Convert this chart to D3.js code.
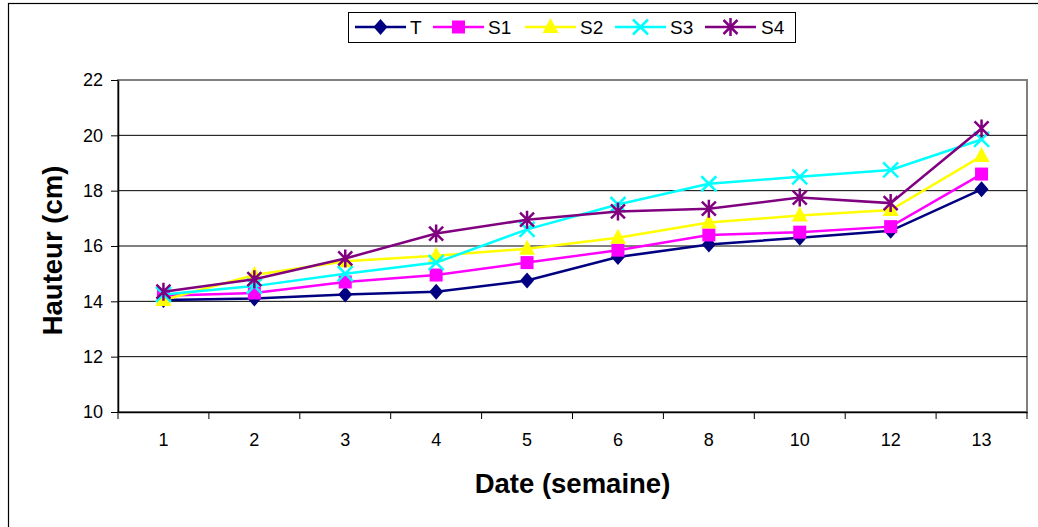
<!DOCTYPE html>
<html><head><meta charset="utf-8">
<script src="https://cdn.jsdelivr.net/npm/d3@7"></script>
<style>body{margin:0;background:#fff}svg{display:block}text{font-family:"Liberation Sans",Arial,sans-serif}</style>
</head><body><svg id="c" width="1038" height="527"></svg>
<script>
const categories = ["1","2","3","4","5","6","8","10","12","13"];
const T  = [14.05, 14.1, 14.25, 14.35, 14.75, 15.6, 16.05, 16.3, 16.55, 18.05];
const S1 = [14.2, 14.3, 14.7, 14.95, 15.4, 15.85, 16.4, 16.5, 16.7, 18.6];
const S2 = [14.05, 14.95, 15.45, 15.65, 15.9, 16.3, 16.85, 17.1, 17.3, 19.25];
const S3 = [14.25, 14.55, 15.0, 15.4, 16.6, 17.5, 18.25, 18.5, 18.75, 19.85];
const S4 = [14.35, 14.8, 15.55, 16.45, 16.95, 17.25, 17.35, 17.75, 17.55, 20.25];
const seriesNames = ["T","S1","S2","S3","S4"];
const yTicks = [10,12,14,16,18,20,22];

const series = [
  {name:"T", values:T, color:"#000080", marker:"diamond"},
  {name:"S1", values:S1, color:"#FF00FF", marker:"square"},
  {name:"S2", values:S2, color:"#FFFF00", marker:"triangle"},
  {name:"S3", values:S3, color:"#00FFFF", marker:"x"},
  {name:"S4", values:S4, color:"#800080", marker:"star"}
];

const svg = d3.select("#c");
const L = 118, R = 1027, Tp = 80, B = 412;
const x = d3.scaleBand().domain(categories).range([L, R]);
const y = d3.scaleLinear().domain([10, 22]).range([B, Tp]);

// outer frame
svg.append("rect").attr("x", 8.5).attr("y", 3.5).attr("width", 1040).attr("height", 540)
  .attr("fill", "#fff").attr("stroke", "#000").attr("stroke-width", 1.2);

// plot area border
svg.append("rect").attr("x", L).attr("y", Tp).attr("width", R - L).attr("height", B - Tp)
  .attr("fill", "#fff").attr("stroke", "#808080").attr("stroke-width", 2);

// gridlines
svg.append("g").selectAll("line").data(yTicks.filter(d => d > 10 && d < 22)).join("line")
  .attr("x1", L).attr("x2", R).attr("y1", d => y(d)).attr("y2", d => y(d))
  .attr("stroke", "#000").attr("stroke-width", 1);

// y axis
const yAxis = svg.append("g").attr("transform", `translate(${L},0)`)
  .call(d3.axisLeft(y).tickValues(yTicks).tickSize(7).tickPadding(8).tickSizeOuter(0));
yAxis.select(".domain").attr("stroke", "#000").attr("stroke-width", 1.5);
yAxis.selectAll(".tick line").attr("stroke", "#000");
yAxis.selectAll("text").attr("font-size", 18).attr("fill", "#000")
  .attr("font-family", "Liberation Sans, Arial, sans-serif");

// x axis
const xAxis = svg.append("g").attr("transform", `translate(0,${B})`)
  .call(d3.axisBottom(x).tickSize(0).tickPadding(21).tickSizeOuter(0));
xAxis.select(".domain").attr("stroke", "#000").attr("stroke-width", 1.5);
xAxis.selectAll("text").attr("font-size", 18).attr("fill", "#000")
  .attr("font-family", "Liberation Sans, Arial, sans-serif");
// tick marks at band boundaries
const bounds = categories.map(c => x(c)).concat([R]);
svg.append("g").selectAll("line").data(bounds).join("line")
  .attr("x1", d => d).attr("x2", d => d).attr("y1", B).attr("y2", B + 7)
  .attr("stroke", "#000").attr("stroke-width", 1);

// axis titles
svg.append("text").attr("x", 572.5).attr("y", 493).attr("text-anchor", "middle")
  .attr("font-size", 27.5).attr("font-weight", "bold").text("Date (semaine)");
svg.append("text").attr("transform", "translate(62,250.5) rotate(-90)").attr("text-anchor", "middle")
  .attr("font-size", 27.5).attr("font-weight", "bold").text("Hauteur (cm)");

function drawMarker(g, type, color) {
  if (type === "diamond") {
    g.append("path").attr("d", "M0,-8L7,0L0,8L-7,0Z").attr("fill", color);
  } else if (type === "square") {
    g.append("rect").attr("x", -6.5).attr("y", -6.5).attr("width", 13).attr("height", 13).attr("fill", color);
  } else if (type === "triangle") {
    g.append("path").attr("d", "M0,-9L8,6L-8,6Z").attr("fill", color);
  } else if (type === "x") {
    g.append("path").attr("d", "M-7.5,-7.5L7.5,7.5M-7.5,7.5L7.5,-7.5").attr("stroke", color).attr("stroke-width", 2.5).attr("fill", "none");
  } else if (type === "star") {
    g.append("path").attr("d", "M-7,-7L7,7M-7,7L7,-7M0,-9L0,9").attr("stroke", color).attr("stroke-width", 2.5).attr("fill", "none");
  }
}

const line = d3.line().x((d, i) => x(categories[i]) + x.bandwidth() / 2).y(d => y(d));
series.forEach(s => {
  svg.append("path").datum(s.values).attr("d", line).attr("fill", "none")
    .attr("stroke", s.color).attr("stroke-width", 2.5);
  s.values.forEach((v, i) => {
    const g = svg.append("g").attr("transform", `translate(${x(categories[i]) + x.bandwidth() / 2},${y(v)})`);
    drawMarker(g, s.marker, s.color);
  });
});

// legend
svg.append("rect").attr("x", 348.5).attr("y", 12.5).attr("width", 447).attr("height", 30)
  .attr("fill", "#fff").attr("stroke", "#000").attr("stroke-width", 1);
const legendX = [355, 433, 525, 615, 705];
const legendTextX = [410, 488, 580, 670, 761];
series.forEach((s, i) => {
  const lx = legendX[i];
  svg.append("line").attr("x1", lx).attr("x2", lx + 51).attr("y1", 27).attr("y2", 27)
    .attr("stroke", s.color).attr("stroke-width", 2.5);
  const g = svg.append("g").attr("transform", `translate(${lx + 25.5},27)`);
  drawMarker(g, s.marker, s.color);
  svg.append("text").attr("x", legendTextX[i]).attr("y", 34).attr("font-size", 19).text(seriesNames[i]);
});
</script></body></html>
